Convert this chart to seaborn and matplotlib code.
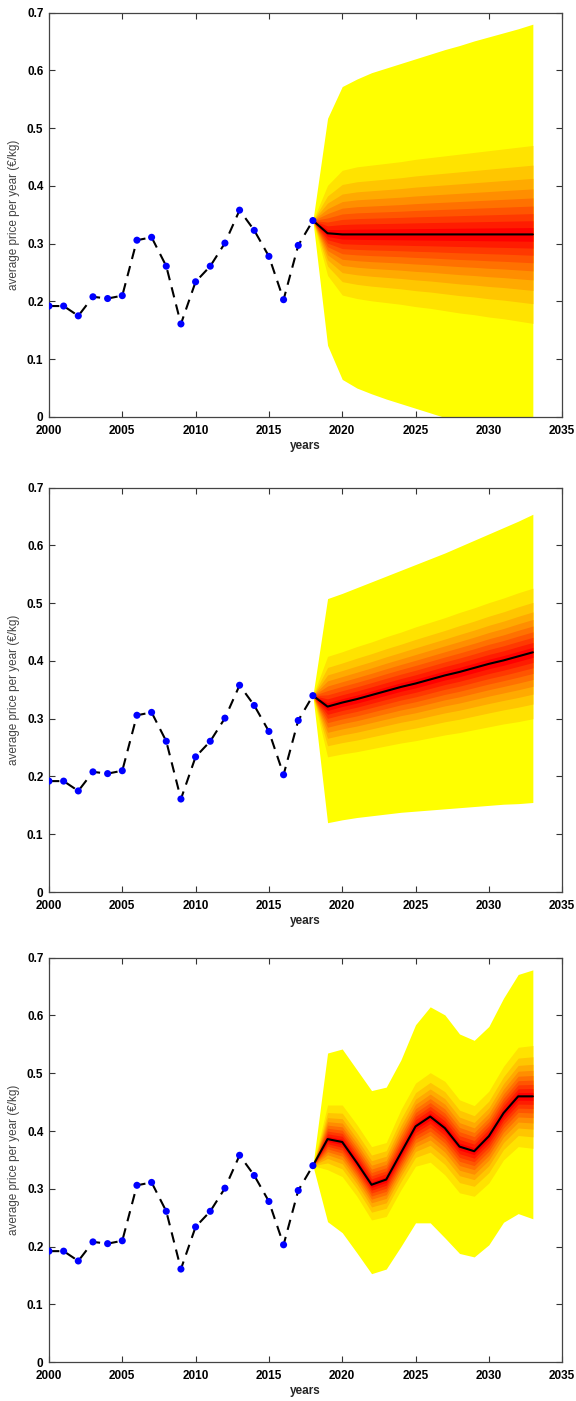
import numpy as np
import pandas as pd
import matplotlib
matplotlib.use("Agg")
import matplotlib.pyplot as plt
import seaborn as sns

# observed average prices
hist_years = list(range(2000, 2019))
hist_price = [0.192, 0.192, 0.175, 0.208, 0.205, 0.210, 0.306, 0.311, 0.261, 0.161,
              0.234, 0.261, 0.301, 0.358, 0.323, 0.278, 0.203, 0.297, 0.340]

fc_years = list(range(2018, 2034))

# scenario 1: flat
med1 = [0.340, 0.318, 0.316, 0.316, 0.316, 0.316, 0.316, 0.316, 0.316, 0.316,
        0.316, 0.316, 0.316, 0.316, 0.316, 0.316]
out_hi1 = [0.340, 0.517, 0.572, 0.585, 0.596, 0.604, 0.612, 0.620, 0.628, 0.636,
           0.643, 0.651, 0.658, 0.665, 0.672, 0.680]
out_lo1 = [0.340, 0.124, 0.065, 0.050, 0.040, 0.031, 0.023, 0.015, 0.007, -0.001,
           -0.008, -0.016, -0.024, -0.032, -0.040, -0.048]
in_hi1 = [0.340, 0.401, 0.427, 0.433, 0.436, 0.439, 0.442, 0.446, 0.449, 0.452,
          0.455, 0.458, 0.461, 0.464, 0.467, 0.470]
in_lo1 = [0.340, 0.245, 0.211, 0.205, 0.201, 0.198, 0.195, 0.191, 0.188, 0.184,
          0.180, 0.177, 0.173, 0.170, 0.166, 0.162]

# scenario 2: rising trend
med2 = [0.340, 0.321, 0.328, 0.334, 0.341, 0.348, 0.355, 0.361, 0.368, 0.375,
        0.381, 0.388, 0.395, 0.401, 0.408, 0.415]
out_hi2 = [0.340, 0.508, 0.517, 0.527, 0.537, 0.547, 0.557, 0.567, 0.577, 0.587,
           0.598, 0.609, 0.620, 0.631, 0.642, 0.654]
out_lo2 = [0.340, 0.120, 0.125, 0.129, 0.132, 0.135, 0.138, 0.140, 0.142, 0.144,
           0.146, 0.148, 0.150, 0.152, 0.153, 0.155]
in_hi2 = [0.340, 0.408, 0.416, 0.425, 0.433, 0.442, 0.450, 0.459, 0.467, 0.475,
          0.484, 0.492, 0.501, 0.509, 0.518, 0.526]
in_lo2 = [0.340, 0.234, 0.239, 0.243, 0.248, 0.253, 0.258, 0.262, 0.267, 0.272,
          0.276, 0.281, 0.286, 0.291, 0.295, 0.300]

# scenario 3: cyclic
med3 = [0.340, 0.386, 0.381, 0.345, 0.307, 0.316, 0.362, 0.408, 0.425, 0.405,
        0.373, 0.365, 0.391, 0.431, 0.460, 0.460]
out_hi3 = [0.340, 0.535, 0.542, 0.506, 0.470, 0.476, 0.523, 0.584, 0.615, 0.601,
           0.568, 0.557, 0.581, 0.630, 0.671, 0.679]
out_lo3 = [0.340, 0.243, 0.224, 0.189, 0.153, 0.161, 0.200, 0.241, 0.241, 0.215,
           0.188, 0.182, 0.203, 0.242, 0.257, 0.248]
in_hi3 = [0.340, 0.445, 0.445, 0.411, 0.373, 0.380, 0.437, 0.483, 0.501, 0.486,
          0.454, 0.444, 0.469, 0.512, 0.545, 0.548]
in_lo3 = [0.340, 0.333, 0.321, 0.287, 0.246, 0.252, 0.298, 0.339, 0.346, 0.324,
          0.293, 0.287, 0.310, 0.350, 0.373, 0.370]

# relative position of the inner band edges (outermost coloured band = 1)
band_frac = [1.0, 0.779, 0.63, 0.512, 0.41, 0.319, 0.234, 0.154, 0.077]

scenarios = [
    (med1, out_hi1, out_lo1, in_hi1, in_lo1),
    (med2, out_hi2, out_lo2, in_hi2, in_lo2),
    (med3, out_hi3, out_lo3, in_hi3, in_lo3),
]

sns.set_style("ticks")
plt.rcParams['font.family'] = ['Liberation Sans', 'DejaVu Sans']

# yellow -> red, like the autumn colormap
n_col = len(band_frac) + 1
colors = [(1.0, g, 0.0) for g in np.linspace(1, 0, n_col)]

hist = pd.DataFrame({"year": hist_years, "price": hist_price})

fig = plt.figure(figsize=(5.76, 14.01), dpi=100)
bottoms = [0.7024, 0.3633, 0.0278]

for (med, ohi, olo, ihi, ilo), b in zip(scenarios, bottoms):
    ax = fig.add_axes([0.085, b, 0.891, 0.2886])
    x = np.array(fc_years)
    m = np.array(med)
    up = np.array(ihi) - m
    lo = m - np.array(ilo)

    ax.fill_between(x, olo, ohi, color=colors[0], lw=0, zorder=1)
    for k, f in enumerate(band_frac):
        ax.fill_between(x, m - f * lo, m + f * up, color=colors[k + 1], lw=0, zorder=1)

    sns.lineplot(data=hist, x="year", y="price", ax=ax, color="black",
                 linestyle=(0, (5, 3.5)), linewidth=1.5, zorder=3)
    sns.scatterplot(data=hist, x="year", y="price", ax=ax, color="#0000ff",
                    s=26, edgecolor="none", zorder=4)
    fc = pd.DataFrame({"year": fc_years, "price": med})
    sns.lineplot(data=fc, x="year", y="price", ax=ax, color="black",
                 linewidth=1.5, zorder=3)

    ax.set_xlim(2000, 2035)
    ax.set_ylim(0, 0.7)
    ax.set_xticks(range(2000, 2036, 5))
    ax.set_yticks(np.arange(0, 0.71, 0.1))
    ax.set_yticklabels(["0", "0.1", "0.2", "0.3", "0.4", "0.5", "0.6", "0.7"])
    ax.tick_params(direction="in", top=True, right=True, length=4, width=0.8,
                   labelsize=8.5, colors="#333333", labelcolor="black")
    ax.tick_params(axis="x", pad=6)
    ax.tick_params(axis="y", pad=4)
    for lab in ax.get_xticklabels() + ax.get_yticklabels():
        lab.set_fontweight("bold")
    for sp in ax.spines.values():
        sp.set_visible(True)
        sp.set_color("#444444")
        sp.set_linewidth(0.9)
    ax.set_xlabel("years", fontsize=8.5, fontweight="bold", labelpad=2)
    ax.set_ylabel("average price per year (€/kg)", fontsize=8.5, color="#444444",
                  labelpad=5)

fig.savefig("out.png", dpi=100)
